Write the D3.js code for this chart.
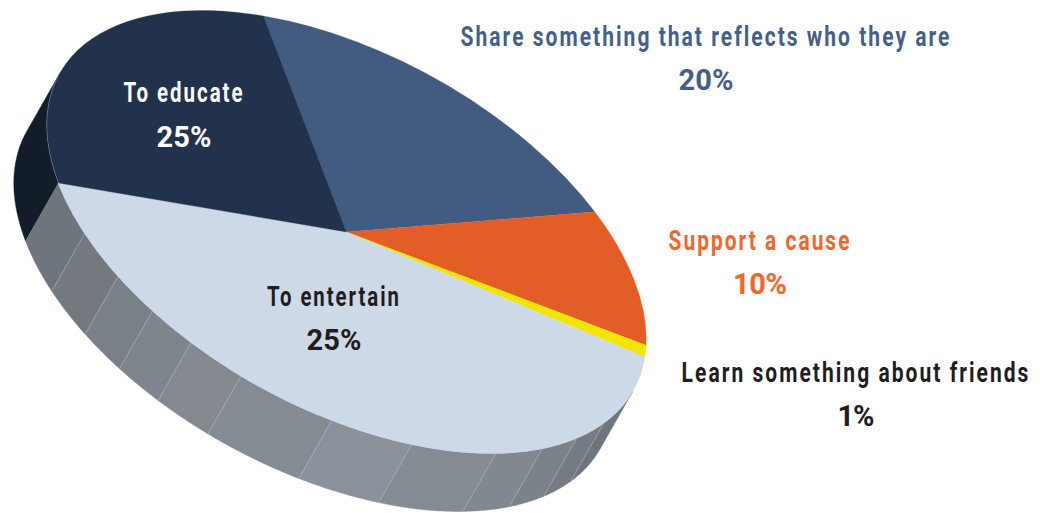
<!DOCTYPE html>
<html>
<head>
<meta charset="utf-8">
<script src="https://cdn.jsdelivr.net/npm/d3@7/dist/d3.min.js"></script>
<style>
  html, body { margin: 0; padding: 0; background: #fff; }
  svg { display: block; }
  text { font-family: "Roboto", "Liberation Sans", sans-serif; font-weight: 700; text-anchor: middle; }
</style>
</head>
<body>
<svg id="chart" width="1040" height="513"></svg>
<script>
// Slices in drawing order, clockwise. The printed percentages add up to 81;
// the other 19 of the whole has no label of its own and shares the light fill.
const sliceNames = ["Share something that reflects who they are", "Support a cause",
  "Learn something about friends", "To entertain", "", "To educate"];
const sliceValues = [20, 10, 1, 25, 19, 25];
const sliceColors = ["#435b80", "#e35d26", "#f2e500", "#cdd9e7", "#cdd9e7", "#22324c"];

// Rim of the disc: panel edges in degrees (clockwise from the start of the first slice) and panel fills.
const rimEdges = [303.3, 270, 256.9, 245.7, 236.4, 227.3, 216.7, 198.9, 183.5, 166.2, 155.3, 145.9, 137, 123.3];
const rimColors = ["#121d29", "#6f757c", "#73797f", "#7a8088", "#7f858d", "#83898f", "#858b93",
  "#8b929b", "#858b93", "#828890", "#7c828a", "#757b83", "#6f757c"];

// Label placement: centre x, baseline y, fitted width, colour.
const labelLayout = [
  { name: sliceNames[0], value: sliceValues[0], x: 706, y: 46, w: 491, vy: 90, vw: 55, fill: "#456088" },
  { name: sliceNames[1], value: sliceValues[1], x: 760, y: 250, w: 183, vy: 294, vw: 54, fill: "#f4652a" },
  { name: sliceNames[2], value: sliceValues[2], x: 856, y: 382, w: 349, vy: 426, vw: 37, fill: "#1f1d1e" },
  { name: sliceNames[3], value: sliceValues[3], x: 334, y: 306, w: 134, vy: 350, vw: 55, fill: "#1f1d1e" },
  { name: sliceNames[5], value: sliceValues[5], x: 184, y: 102, w: 121, vy: 147, vw: 55, fill: "#ffffff" }
];

const centre = { x: 346.5, y: 232 };
const radius = 100;
// Oblique view of the disc: where the x and y unit directions of the flat pie land on screen.
const tilt = { ax: 288, ay: 49, bx: 83, by: 216 };
const drop = { x: -33, y: 58 };

const svg = d3.select("#chart");

// Flat pie coordinates to screen coordinates.
const flatX = d3.scaleLinear().domain([0, radius]).range([0, 1]);
const rimPoint = deg => {
  const t = deg * Math.PI / 180, u = Math.sin(t), v = -Math.cos(t);
  return [centre.x + tilt.ax * u + tilt.bx * v, centre.y + tilt.ay * u + tilt.by * v];
};
const outline = d3.line();

// Rim panels
const rimPanels = d3.pairs(rimEdges).map(([a, b], i) => {
  const angles = d3.range(0, 25).map(k => a + (b - a) * k / 24);
  const upper = angles.map(rimPoint);
  const lower = upper.map(p => [p[0] + drop.x, p[1] + drop.y]).reverse();
  return { path: outline(upper.concat(lower)) + "Z", fill: rimColors[i], a };
});
svg.append("g").selectAll("path").data(rimPanels).join("path")
  .attr("d", d => d.path).attr("fill", d => d.fill).attr("stroke", d => d.fill).attr("stroke-width", 0.4);

// Fine seams between the grey panels
svg.append("g").selectAll("path").data(rimEdges.slice(2, -1)).join("path")
  .attr("d", deg => {
    const p = rimPoint(deg);
    return outline([p, [p[0] + drop.x, p[1] + drop.y]]);
  })
  .attr("stroke", "#c3c8cf").attr("stroke-opacity", 0.65).attr("stroke-width", 0.6).attr("fill", "none");

// Top face: an ordinary d3 pie, sheared into the oblique view.
// The unlabelled slice gets a heavier stroke so no hairline shows against its same-coloured neighbour;
// the slice after it paints over the excess.
const pie = d3.pie().sort(null).value(d => d)(sliceValues);
const arc = d3.arc().innerRadius(0).outerRadius(radius);
const k = flatX(1);
svg.append("g")
  .attr("transform", `matrix(${tilt.ax * k} ${tilt.ay * k} ${tilt.bx * k} ${tilt.by * k} ${centre.x} ${centre.y})`)
  .selectAll("path").data(pie).join("path")
  .attr("d", arc).attr("fill", (d, i) => sliceColors[i])
  .attr("stroke", (d, i) => sliceColors[i]).attr("stroke-width", (d, i) => sliceNames[i] ? 0.1 : 0.5);

// Pale hairline where the dark face meets its shadowed rim
svg.append("path")
  .attr("d", outline(d3.range(0, 25).map(i => rimPoint(270 + 33.3 * i / 24))))
  .attr("fill", "none").attr("stroke", "#aeb6c0").attr("stroke-opacity", 0.6).attr("stroke-width", 0.6);

// Slice names and percentages; names get open tracking, then are narrowed to the fitted width
const labels = svg.append("g").selectAll("g").data(labelLayout).join("g");
labels.append("text")
  .attr("fill", d => d.fill)
  .attr("font-size", 27).attr("letter-spacing", 2.6)
  .text(d => d.name)
  .attr("transform", function (d) {
    return `translate(${d.x} ${d.y}) scale(${d.w / this.getComputedTextLength()} 1)`;
  });
labels.append("text")
  .attr("x", d => d.x).attr("y", d => d.vy).attr("fill", d => d.fill)
  .attr("font-size", 29).attr("textLength", d => d.vw).attr("lengthAdjust", "spacing")
  .text(d => d.value + "%");
</script>
</body>
</html>
